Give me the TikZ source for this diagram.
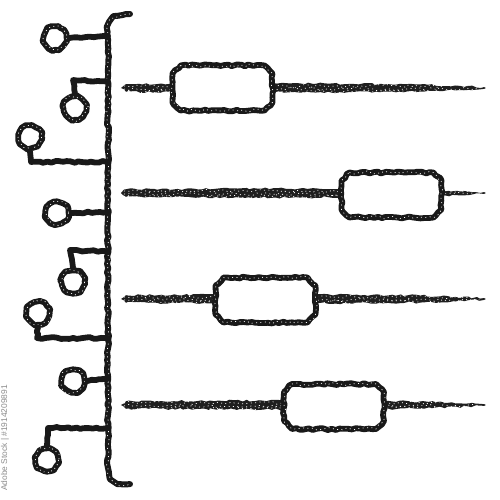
\documentclass[tikz,border=0pt]{standalone}
\usepackage{fontspec}
\setmainfont{Liberation Sans}
\usetikzlibrary{decorations.pathmorphing}
\begin{document}
\begin{tikzpicture}[x=0.5pt,y=-0.5pt,
  rough/.style={decorate,decoration={random steps,segment length=2pt,amplitude=0.5pt}},
  crayon/.style={draw=black!90,line width=2.9pt,line join=round,line cap=round,rough},
  speck/.style={draw=white,line width=0.35pt,dash pattern=on 0.5pt off 1.7pt,decorate,decoration={random steps,segment length=2pt,amplitude=0.8pt}},
  dot/.style={circle,crayon,minimum size=11.5pt,inner sep=0pt,fill=white},
  tag/.style={rectangle,fill=white,minimum width=50pt,minimum height=22.5pt,inner sep=0pt,outer sep=0pt},
  bar/.style={fill=black!88,rough}]
\useasboundingbox (0,0) rectangle (500,500);
% bracket
\coordinate (top) at (130,14);
\coordinate (bot) at (130,484);
\draw[crayon,line width=3pt] (top) .. controls (113,14) and (108,19) .. (108,32) -- (108,468) .. controls (108,481) and (115,485) .. (bot);
\draw[speck] (top) .. controls (113,14) and (108,19) .. (108,32) -- (108,468) .. controls (108,481) and (115,485) .. (bot);
% bracket tap points
\coordinate (b1) at (108,36);
\coordinate (b2) at (108,82);
\coordinate (b3) at (108,162);
\coordinate (b4) at (108,212);
\coordinate (b5) at (108,252);
\coordinate (b6) at (108,338);
\coordinate (b7) at (108,378);
\coordinate (b8) at (108,428);
% circles
\node[dot] (c1) at (55,38) {};
\node[dot] (c2) at (75,108) {};
\node[dot] (c3) at (30,137) {};
\node[dot] (c4) at (57,213) {};
\node[dot] (c5) at (73,282) {};
\node[dot] (c6) at (38,313) {};
\node[dot] (c7) at (73,381) {};
\node[dot] (c8) at (47,460) {};
\foreach \c in {c1,c2,c3,c4,c5,c6,c7,c8}{\draw[speck] (\c) circle[radius=11.5];}
% stems
\draw[crayon] (c1.east) -- (b1);
\draw[crayon] (c2.north) -- (73,80) -- (b2);
\draw[crayon] (c3.south) -- (31,162) -- (b3);
\draw[crayon] (c4.east) -- (b4);
\draw[crayon] (c5.north) -- (70,250) -- (b5);
\draw[crayon] (c6.south) -- (37,338) -- (b6);
\draw[crayon] (c7.east) -- (b7);
\draw[crayon] (c8.north) -- (48,428) -- (b8);
% bars
\foreach \y in {88,193,299,405}{
  \fill[bar] (121,\y) -- (126,\y-3.8) -- (300,\y-4.6) -- (420,\y-3.6) -- (484,\y-0.9) -- (486,\y) -- (484,\y+0.9) -- (420,\y+3.6) -- (300,\y+4.6) -- (126,\y+3.8) -- cycle;
  \draw[speck] (124,\y-2) -- (470,\y-2);
  \draw[speck] (124,\y+1) -- (480,\y+1);
  \draw[speck] (124,\y+3.5) -- (440,\y+3);
}
% tags
\node[tag] (t1) at (222.5,88) {};
\node[tag] (t2) at (391.5,195) {};
\node[tag] (t3) at (265.5,300) {};
\node[tag] (t4) at (334,406.5) {};
\foreach \t in {t1,t2,t3,t4}{
  \draw[crayon,fill=white] ([xshift=4pt]\t.north west) -- ([xshift=-4pt]\t.north east) -- ([yshift=-4pt]\t.north east) -- ([yshift=4pt]\t.south east) -- ([xshift=-4pt]\t.south east) -- ([xshift=4pt]\t.south west) -- ([yshift=4pt]\t.south west) -- ([yshift=-4pt]\t.north west) -- cycle;
  \draw[speck] ([xshift=4pt]\t.north west) -- ([xshift=-4pt]\t.north east) -- ([yshift=-4pt]\t.north east) -- ([yshift=4pt]\t.south east) -- ([xshift=-4pt]\t.south east) -- ([xshift=4pt]\t.south west) -- ([yshift=4pt]\t.south west) -- ([yshift=-4pt]\t.north west) -- cycle;
}
% stock id
\node[rotate=90,text=black!45,font=\fontsize{4.2pt}{5pt}\selectfont,inner sep=0pt] (id) at (5,438) {Adobe Stock | \#1914209891};
\end{tikzpicture}
\end{document}
